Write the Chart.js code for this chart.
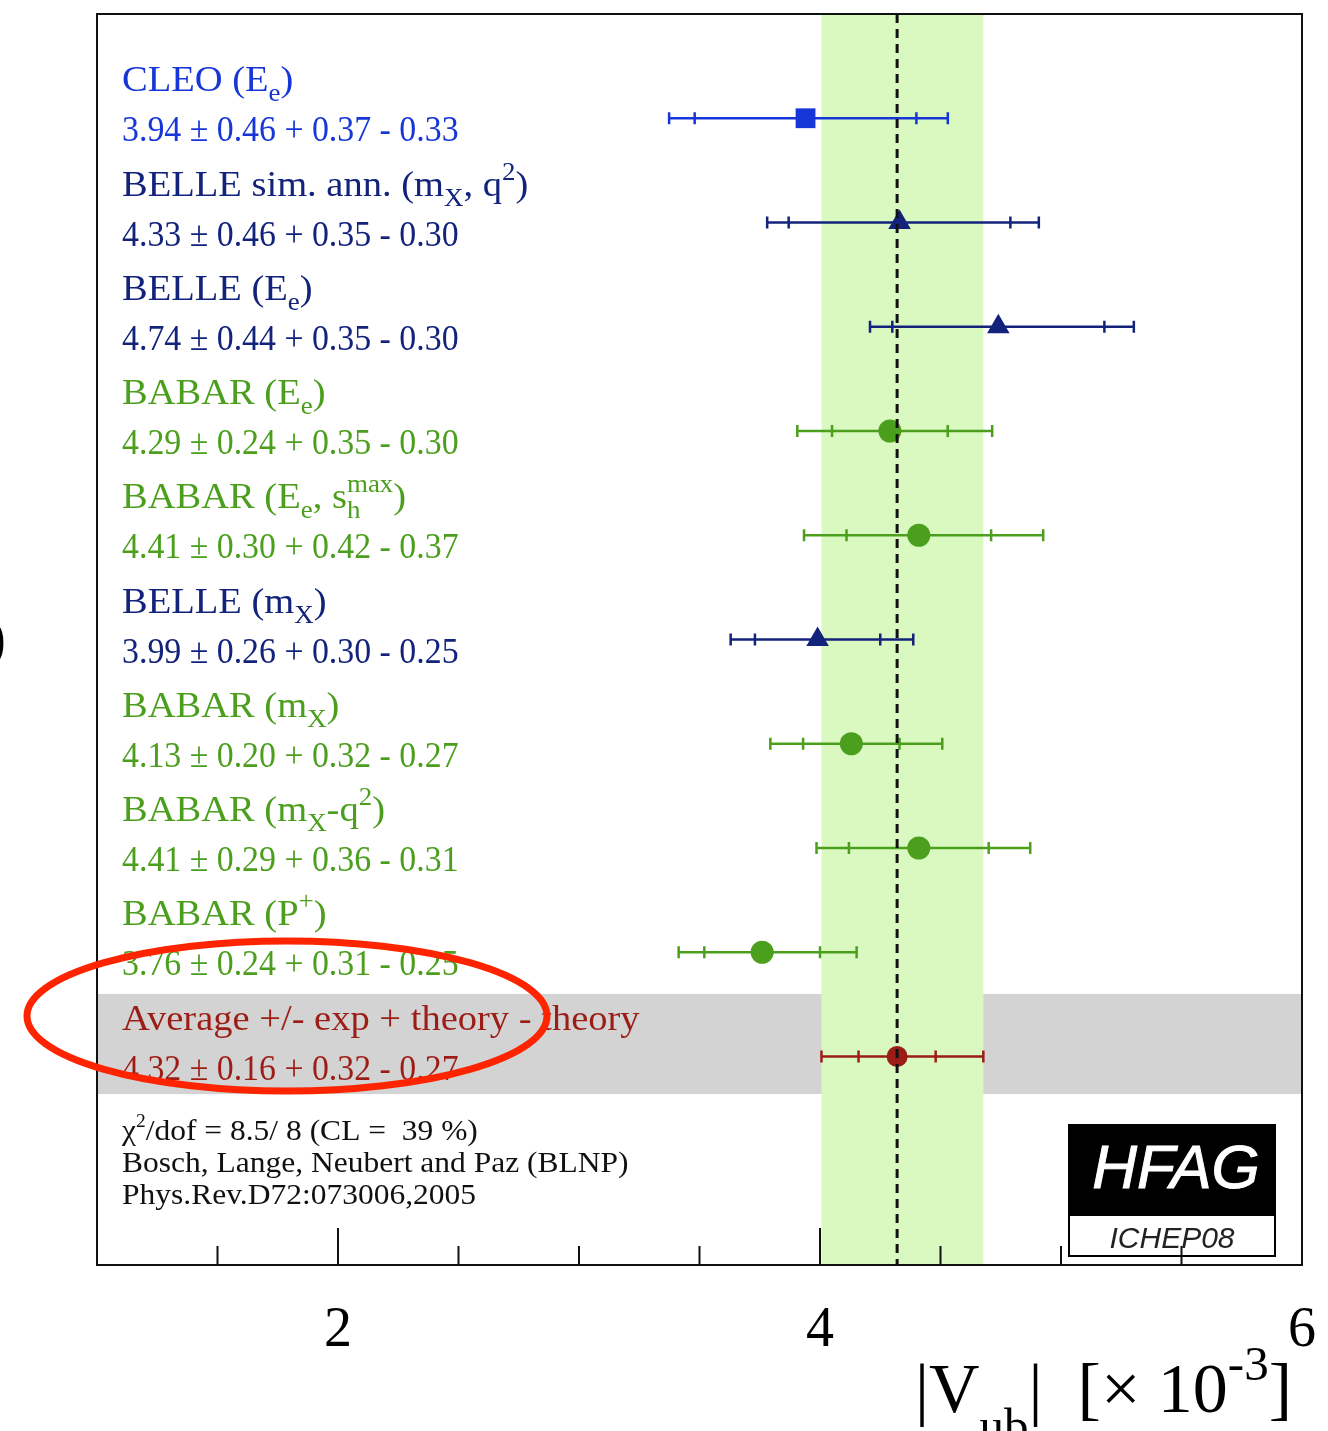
<!DOCTYPE html>
<html>
<head>
<meta charset="utf-8">
<script src="https://cdn.jsdelivr.net/npm/chart.js@4"></script>
<style>
  body { margin: 0; background: #fff; }
  canvas { display: block; }
</style>
</head>
<body>
<canvas id="chart" width="1328" height="1431"></canvas>
<script>
// |Vub| measurements (x 10^-3), BLNP, HFAG ICHEP08
const names = [
    'CLEO (E_{e})',
    'BELLE sim. ann. (m_{X}, q^{2})',
    'BELLE (E_{e})',
    'BABAR (E_{e})',
    'BABAR (E_{e}, s_{h}^{max})',
    'BELLE (m_{X})',
    'BABAR (m_{X})',
    'BABAR (m_{X}-q^{2})',
    'BABAR (P^{+})',
    'Average +/- exp + theory - theory'
];
const experiment = ['CLEO', 'BELLE', 'BELLE', 'BABAR', 'BABAR', 'BELLE', 'BABAR', 'BABAR', 'BABAR', 'AVG'];
const values     = [3.94, 4.33, 4.74, 4.29, 4.41, 3.99, 4.13, 4.41, 3.76, 4.32];
const expErr     = [0.46, 0.46, 0.44, 0.24, 0.30, 0.26, 0.20, 0.29, 0.24, 0.16];
const theoryUp   = [0.37, 0.35, 0.35, 0.35, 0.42, 0.30, 0.32, 0.36, 0.31, 0.32];
const theoryDown = [0.33, 0.30, 0.30, 0.30, 0.37, 0.25, 0.27, 0.31, 0.25, 0.27];

const xTickMajor = [2, 4, 6];
const xTickMinor = [1.5, 2.5, 3, 3.5, 4.5, 5, 5.5];
const xTickLabels = ['2', '4', '6'];

const footer = [
    '\u03c7^{2}/dof = 8.5/ 8 (CL =  39 %)',
    'Bosch, Lange, Neubert and Paz (BLNP)',
    'Phys.Rev.D72:073006,2005'
];

// styles
const colorOf  = { CLEO: '#1636d8', BELLE: '#13237c', BABAR: '#4b9f1d', AVG: '#9c1d15' };
const markerOf = { CLEO: 'rect', BELLE: 'triangle', BABAR: 'circle', AVG: 'circle' };
const radiusOf = { CLEO: 14, BELLE: 13, BABAR: 11.5, AVG: 10.5 };
const SERIF = "'Liberation Serif', 'DejaVu Serif', serif";
const SANS = "'Liberation Sans', Arial, sans-serif";

const AVG = values.length - 1;
const total = (a, b) => Math.sqrt(a * a + b * b);

function parseRich(str) {
    const out = [];
    const re = /_\{([^}]*)\}\^\{([^}]*)\}|_\{([^}]*)\}|\^\{([^}]*)\}|([^_^]+)/g;
    let m;
    while ((m = re.exec(str))) {
        if (m[1] !== undefined) out.push({ t: m[1], t2: m[2], mode: 'subsup' });
        else if (m[3] !== undefined) out.push({ t: m[3], mode: 'sub' });
        else if (m[4] !== undefined) out.push({ t: m[4], mode: 'sup' });
        else out.push({ t: m[5], mode: '' });
    }
    return out;
}

function drawRich(ctx, str, x, y, o) {
    const sx = o.sx || 1;
    const small = o.size * (o.smallScale || 0.62);
    const font = s => `${o.style || ''} ${s}px ${o.family}`;
    ctx.save();
    ctx.translate(x, y);
    ctx.scale(sx, 1);
    ctx.fillStyle = o.color;
    ctx.textAlign = 'left';
    ctx.textBaseline = 'alphabetic';
    let cx = 0;
    parseRich(str).forEach(s => {
        if (s.mode === '') {
            ctx.font = font(o.size);
            ctx.fillText(s.t, cx, 0);
            cx += ctx.measureText(s.t).width;
            return;
        }
        ctx.font = font(small);
        if (s.mode === 'sub') {
            ctx.fillText(s.t, cx, o.subShift);
            cx += ctx.measureText(s.t).width;
        } else if (s.mode === 'sup') {
            ctx.fillText(s.t, cx, -o.supShift);
            cx += ctx.measureText(s.t).width;
        } else {
            ctx.fillText(s.t, cx, o.subShift);
            ctx.fillText(s.t2, cx, -o.supShift);
            cx += Math.max(ctx.measureText(s.t).width, ctx.measureText(s.t2).width);
        }
    });
    ctx.restore();
}

const hfagPlugin = {
    id: 'hfag',
    beforeDatasetsDraw(chart) {
        const { ctx, chartArea: a, scales: { x, y } } = chart;
        ctx.save();

        // average row shading
        const gTop = y.getPixelForValue(AVG - 0.6);
        const gBot = y.getPixelForValue(AVG + 0.36);
        ctx.fillStyle = '#d3d3d3';
        ctx.fillRect(a.left, gTop, a.right - a.left, gBot - gTop);

        // average total error band
        const lo = x.getPixelForValue(values[AVG] - total(expErr[AVG], theoryDown[AVG]));
        const hi = x.getPixelForValue(values[AVG] + total(expErr[AVG], theoryUp[AVG]));
        ctx.fillStyle = '#d9f9c1';
        ctx.fillRect(lo, a.top, hi - lo, a.bottom - a.top);

        // error bars: outer = total, inner ticks = experimental
        values.forEach((v, i) => {
            const py = y.getPixelForValue(i);
            const c = colorOf[experiment[i]];
            const xl = x.getPixelForValue(v - total(expErr[i], theoryDown[i]));
            const xr = x.getPixelForValue(v + total(expErr[i], theoryUp[i]));
            const il = x.getPixelForValue(v - expErr[i]);
            const ir = x.getPixelForValue(v + expErr[i]);
            ctx.strokeStyle = c;
            ctx.lineWidth = 2.5;
            ctx.beginPath();
            ctx.moveTo(xl, py); ctx.lineTo(xr, py);
            [xl, il, ir, xr].forEach(px => { ctx.moveTo(px, py - 6); ctx.lineTo(px, py + 6); });
            ctx.stroke();

            // labels
            drawRich(ctx, names[i], 122, py - 27,
                { size: 36, family: SERIF, color: c, sx: 1.07, smallScale: 0.7, subShift: 10, supShift: 16 });
            const txt = `${v.toFixed(2)} \u00b1 ${expErr[i].toFixed(2)} + ${theoryUp[i].toFixed(2)} - ${theoryDown[i].toFixed(2)}`;
            drawRich(ctx, txt, 122, py + 23,
                { size: 36, family: SERIF, color: c, sx: 0.94 });
        });
        ctx.restore();
    },
    afterDatasetsDraw(chart) {
        const { ctx, chartArea: a, scales: { x, y } } = chart;
        ctx.save();

        // average dashed line
        const ax = x.getPixelForValue(values[AVG]);
        ctx.strokeStyle = '#111';
        ctx.lineWidth = 3;
        ctx.setLineDash([9, 6]);
        ctx.beginPath();
        ctx.moveTo(ax, a.top); ctx.lineTo(ax, a.bottom);
        ctx.stroke();
        ctx.setLineDash([]);

        // footer text
        footer.forEach((t, k) => {
            drawRich(ctx, t, 122, 1140 + k * 32,
                { size: 30, family: SERIF, color: '#111', sx: 1.05, smallScale: 0.62, subShift: 6, supShift: 13 });
        });

        // HFAG logo
        ctx.fillStyle = '#000';
        ctx.fillRect(1068, 1125, 208, 91);
        ctx.fillStyle = '#fff';
        ctx.fillRect(1069, 1216, 206, 40);
        ctx.strokeStyle = '#000';
        ctx.lineWidth = 2;
        ctx.strokeRect(1069, 1125, 206, 131);
        ctx.textAlign = 'center';
        ctx.textBaseline = 'alphabetic';
        ctx.fillStyle = '#fff';
        ctx.font = `italic 62px ${SANS}`;
        ctx.fillText('HFAG', 1176, 1188);
        ctx.strokeStyle = '#fff';
        ctx.lineWidth = 1;
        ctx.strokeText('HFAG', 1176, 1188);
        ctx.fillStyle = '#222';
        ctx.font = `italic 30px ${SANS}`;
        ctx.fillText('ICHEP08', 1172, 1248);

        // frame
        ctx.strokeStyle = '#111';
        ctx.lineWidth = 2;
        ctx.strokeRect(a.left, a.top, a.right - a.left, a.bottom - a.top);

        // x ticks, drawn inward
        ctx.beginPath();
        xTickMajor.forEach(v => { const px = x.getPixelForValue(v); ctx.moveTo(px, a.bottom); ctx.lineTo(px, a.bottom - 37); });
        xTickMinor.forEach(v => { const px = x.getPixelForValue(v); ctx.moveTo(px, a.bottom); ctx.lineTo(px, a.bottom - 19); });
        ctx.stroke();

        // tick labels
        ctx.fillStyle = '#000';
        ctx.textAlign = 'center';
        ctx.font = `56px ${SERIF}`;
        xTickMajor.forEach((v, k) => ctx.fillText(xTickLabels[k], x.getPixelForValue(v), 1346));

        // axis title
        drawRich(ctx, '|V_{ub}|  [\u00d7 10^{-3}]', 915, 1412,
            { size: 70, family: SERIF, color: '#000', sx: 1.0, smallScale: 0.7, subShift: 30, supShift: 32 });

        // clipped label at left edge
        ctx.textAlign = 'right';
        ctx.font = `56px ${SERIF}`;
        ctx.fillText(')', 6, 657);

        // annotation ellipse
        ctx.strokeStyle = '#ff2400';
        ctx.lineWidth = 7;
        ctx.beginPath();
        ctx.ellipse(287, 1016, 260, 75, 0, 0, Math.PI * 2);
        ctx.stroke();

        ctx.restore();
    }
};

new Chart(document.getElementById('chart'), {
    type: 'scatter',
    data: {
        datasets: [{
            data: values.map((v, i) => ({ x: v, y: i })),
            pointStyle: experiment.map(e => markerOf[e]),
            pointRadius: experiment.map(e => radiusOf[e]),
            backgroundColor: experiment.map(e => colorOf[e]),
            borderColor: experiment.map(e => colorOf[e]),
            borderWidth: 0
        }]
    },
    options: {
        responsive: false,
        animation: false,
        layout: { padding: { left: 97, right: 26, top: 12, bottom: 166 } },
        scales: {
            x: { type: 'linear', min: 1, max: 6, display: false },
            y: { type: 'linear', min: -1, max: 11, reverse: true, display: false }
        },
        plugins: {
            legend: { display: false },
            tooltip: { enabled: false }
        }
    },
    plugins: [hfagPlugin]
});
</script>
</body>
</html>
